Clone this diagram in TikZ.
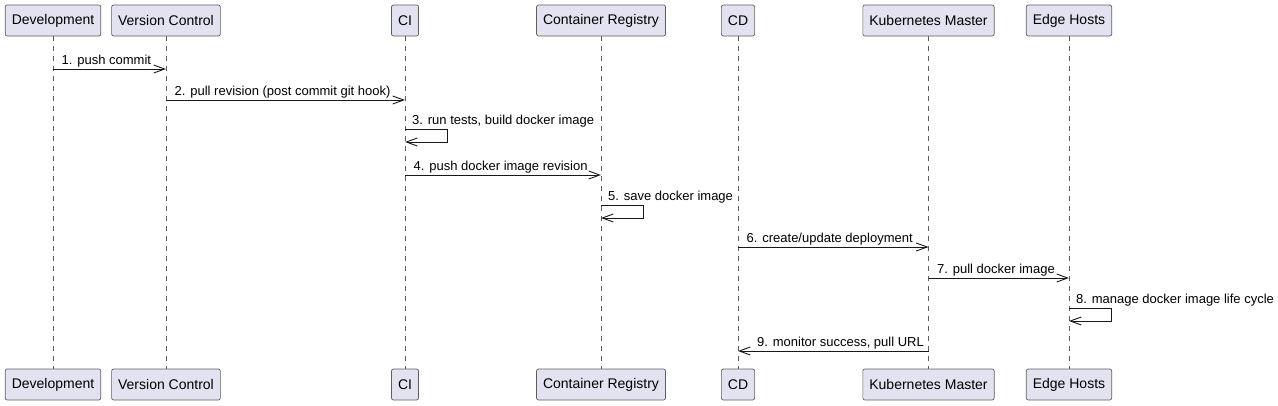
\documentclass[tikz,border=0pt]{standalone}
\usepackage{fontspec}
\setmainfont{Liberation Sans}
\usepackage{xcolor}
\definecolor{partfill}{HTML}{E2E2F0}
\definecolor{partline}{HTML}{181818}
\usetikzlibrary{arrows.meta}

\begin{document}
\begin{tikzpicture}[x=1pt,y=-1pt]
	\tikzstyle{participant}=[draw=partline!70,fill=partfill,rounded corners=2pt,line width=0.7pt,minimum height=31pt,inner xsep=6.5pt,font=\fontsize{14}{16}\selectfont]
	\tikzstyle{lifeline}=[draw=partline!70,line width=0.6pt,dash pattern=on 5pt off 5pt]
	\tikzstyle{message}=[draw=partline,line width=0.9pt,-{Straight Barb[length=11pt,width=8pt,line width=0.9pt]}]
	\tikzstyle{msgtext}=[anchor=base west,inner sep=0pt,font=\fontsize{13}{15}\selectfont]
	\useasboundingbox (0,0) rectangle (1278,405);

	% Draw the participants, top and bottom
	\foreach \name/\x/\txt in {dev/53/Development, vc/166/Version Control, ci/405/CI, cr/601/Container Registry, cd/738/CD, km/928.5/Kubernetes Master, eh/1069/Edge Hosts} {
		\node[participant] (\name-top) at (\x,20.5) {\txt};
		\node[participant] (\name-bot) at (\x,384.5) {\txt};
	}
	% Draw the lifelines
	\foreach \name in {dev,vc,ci,cr,cd,km,eh}
	\path[lifeline] (\name-top.south) -- (\name-bot.north);

	% Messages from one lifeline to another
	\foreach \i/\src/\dst/\y/\txt in {1/dev/vc/69/{1. push commit}, 2/vc/ci/100/{2. pull revision (post commit git hook)}, 4/ci/cr/175/{4. push docker image revision}, 6/cd/km/247/{6. create/update deployment}, 7/km/eh/278/{7. pull docker image}} {
		\coordinate (m\i-a) at (\src-top |- 0,\y);
		\coordinate (m\i-b) at (\dst-top |- 0,\y);
		\draw[message] (m\i-a) -- (m\i-b);
		\node[msgtext] (t\i) at ([shift={(8.5,-4.5)}]m\i-a) {\txt};
	}
	% Self messages
	\foreach \i/\src/\y/\txt in {3/ci/129/{3. run tests, build docker image}, 5/cr/205/{5. save docker image}, 8/eh/308/{8. manage docker image life cycle}} {
		\coordinate (m\i-a) at (\src-top |- 0,\y);
		\coordinate (m\i-b) at (\src-top |- 0,\y+13);
		\draw[message] (m\i-a) -- ++(42,0) |- (m\i-b);
		\node[msgtext] (t\i) at ([shift={(7,-4.5)}]m\i-a) {\txt};
	}
	% Return message
	\coordinate (m9-a) at (km-top |- 0,351);
	\coordinate (m9-b) at (cd-top |- 0,351);
	\draw[message] (m9-a) -- (m9-b);
	\node[msgtext] (t9) at ([shift={(19,-4.5)}]m9-b) {9. monitor success, pull URL};
\end{tikzpicture}
\end{document}
